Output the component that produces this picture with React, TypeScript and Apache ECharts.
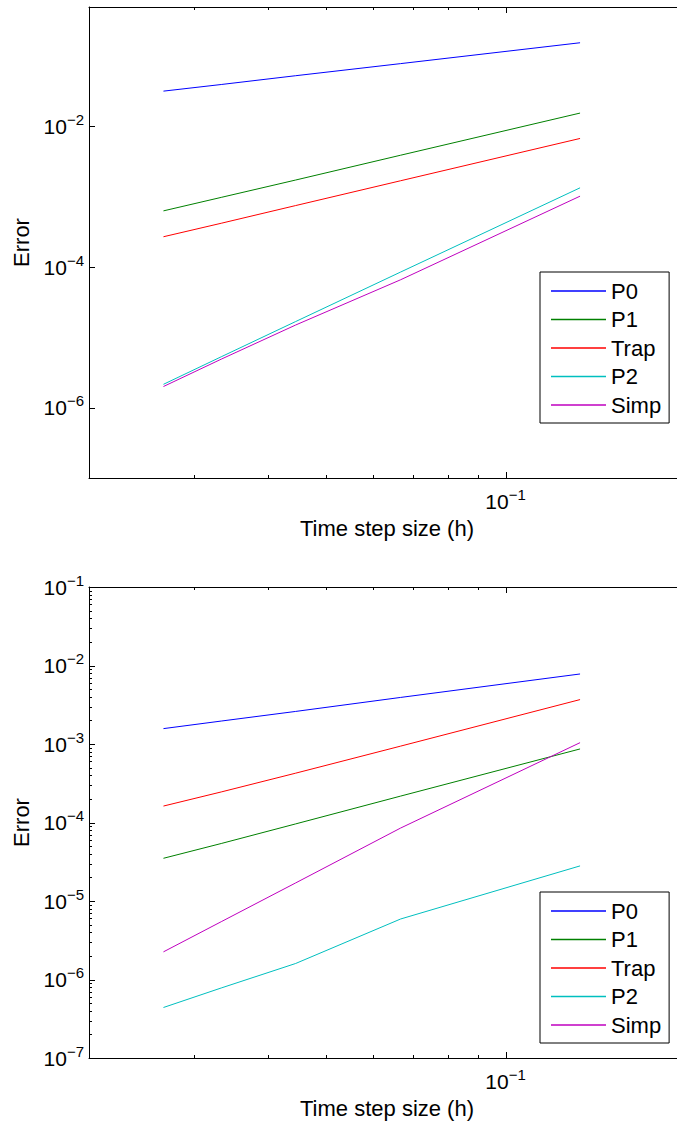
import React, { useEffect, useRef } from "react";
import * as echarts from "echarts";

const stepSizes = [0.026667, 0.033333, 0.044444, 0.066667, 0.133333];
const seriesNames = ["P0", "P1", "Trap", "P2", "Simp"];
const seriesColors = ["#0000ff", "#008000", "#ff0000", "#00bfbf", "#bf00bf"];

// top panel errors
const topP0 = [0.0318, 0.0395, 0.0527, 0.0783, 0.155];
const topP1 = [6.3e-4, 9.8e-4, 1.73e-3, 3.9e-3, 1.55e-2];
const topTrap = [2.7e-4, 4.2e-4, 7.5e-4, 1.69e-3, 6.75e-3];
const topP2 = [2.15e-6, 5.3e-6, 1.68e-5, 8.5e-5, 1.34e-3];
const topSimp = [2.0e-6, 4.9e-6, 1.5e-5, 6.6e-5, 1.02e-3];

// bottom panel errors
const botP0 = [1.57e-3, 1.96e-3, 2.6e-3, 3.92e-3, 7.8e-3];
const botP1 = [3.5e-5, 5.4e-5, 9.6e-5, 2.17e-4, 8.65e-4];
const botTrap = [1.62e-4, 2.45e-4, 4.25e-4, 9.4e-4, 3.68e-3];
const botP2 = [4.4e-7, 7.8e-7, 1.6e-6, 5.9e-6, 2.8e-5];
const botSimp = [2.25e-6, 5.45e-6, 1.7e-5, 8.5e-5, 1.04e-3];

const xRange = [0.02, 0.2];
const topYRange = [1e-7, 0.5];
const botYRange = [1e-7, 1e-1];
const xMajorTicks = [0.1, 0.2];
const xMinorTicks = [0.03, 0.04, 0.05, 0.06, 0.07, 0.08, 0.09];
const xLabelTicks = [0.1];
const topYTicks = [1e-6, 1e-4, 1e-2];
const botYTicks = [1e-7, 1e-6, 1e-5, 1e-4, 1e-3, 1e-2, 1e-1];
const botYMinor = [
  2e-7, 3e-7, 4e-7, 5e-7, 6e-7, 7e-7, 8e-7, 9e-7,
  2e-6, 3e-6, 4e-6, 5e-6, 6e-6, 7e-6, 8e-6, 9e-6,
  2e-5, 3e-5, 4e-5, 5e-5, 6e-5, 7e-5, 8e-5, 9e-5,
  2e-4, 3e-4, 4e-4, 5e-4, 6e-4, 7e-4, 8e-4, 9e-4,
  2e-3, 3e-3, 4e-3, 5e-3, 6e-3, 7e-3, 8e-3, 9e-3,
  2e-2, 3e-2, 4e-2, 5e-2, 6e-2, 7e-2, 8e-2, 9e-2,
];

const topSeries = [topP0, topP1, topTrap, topP2, topSimp];
const botSeries = [botP0, botP1, botTrap, botP2, botSimp];

const FONT = "'Liberation Sans', Arial, Helvetica, sans-serif";
const BLACK = "#000";

const supLabel = (v: number) => {
  const e = Math.round(Math.log10(v));
  return `{b|10}{s|${e < 0 ? "\u2212" : ""}${Math.abs(e)}}`;
};
const rich = {
  b: { fontSize: 21, fontFamily: FONT, color: BLACK },
  s: { fontSize: 15, fontFamily: FONT, color: BLACK, padding: [0, 0, 14, 0] },
};

// inward tick marks placed through the axes' own scales
function tickSeries(
  xAxisIndex: number,
  yAxisIndex: number,
  side: "bottom" | "top" | "left",
  values: number[],
  edge: number,
  len: number
) {
  return {
    type: "custom",
    coordinateSystem: "cartesian2d",
    xAxisIndex,
    yAxisIndex,
    silent: true,
    clip: false,
    z: 5,
    data: values.map((v) => (side === "left" ? [edge, v] : [v, edge])),
    renderItem: (_params: any, api: any) => {
      const p = api.coord([api.value(0), api.value(1)]);
      let shape;
      if (side === "left") {
        const y = Math.round(p[1]) + 0.5;
        shape = { x1: p[0], y1: y, x2: p[0] + len, y2: y };
      } else {
        const x = Math.round(p[0]) + 0.5;
        shape = side === "bottom"
          ? { x1: x, y1: p[1], x2: x, y2: p[1] - len }
          : { x1: x, y1: p[1], x2: x, y2: p[1] + len };
      }
      return { type: "line", shape, style: { stroke: BLACK, lineWidth: 1 } };
    },
  };
}

function xAxes(gridIndex: number) {
  return [
    {
      type: "log",
      gridIndex,
      min: xRange[0],
      max: xRange[1],
      position: "bottom",
      name: "Time step size (h)",
      nameLocation: "middle",
      nameGap: 39,
      nameTextStyle: { fontSize: 22, fontFamily: FONT, color: BLACK },
      splitLine: { show: false },
      axisLine: { show: true, onZero: false, lineStyle: { color: BLACK, width: 1 } },
      axisTick: { show: false },
      axisLabel: { show: true, margin: 9, customValues: xLabelTicks, formatter: supLabel, rich },
    },
    {
      type: "log",
      gridIndex,
      min: xRange[0],
      max: xRange[1],
      position: "top",
      splitLine: { show: false },
      axisLine: { show: true, onZero: false, lineStyle: { color: BLACK, width: 1 } },
      axisTick: { show: false },
      axisLabel: { show: false },
    },
  ];
}

function yMain(gridIndex: number, range: number[], ticks: number[]) {
  return {
    type: "log",
    gridIndex,
    min: range[0],
    max: range[1],
    position: "left",
    name: "Error",
    nameLocation: "middle",
    nameGap: 51,
    nameTextStyle: { fontSize: 22, fontFamily: FONT, color: BLACK },
    splitLine: { show: false },
    axisLine: { show: true, onZero: false, lineStyle: { color: BLACK, width: 1 } },
    axisTick: { show: false },
    axisLabel: { show: true, margin: 5, customValues: ticks, formatter: supLabel, rich },
  };
}

export default function App() {
  const ref = useRef<HTMLDivElement>(null);
  useEffect(() => {
    if (!ref.current) return;
    const chart = echarts.init(ref.current, undefined, { renderer: "svg" });
    const series: any[] = [];
    const panels = [
      { xi: 0, yi: 0, data: topSeries, yRange: topYRange, yTicks: topYTicks, yMinor: [] as number[] },
      { xi: 2, yi: 1, data: botSeries, yRange: botYRange, yTicks: botYTicks, yMinor: botYMinor },
    ];
    panels.forEach((pn) => {
      seriesNames.forEach((name, i) => {
        series.push({
          name,
          type: "line",
          xAxisIndex: pn.xi,
          yAxisIndex: pn.yi,
          symbol: "none",
          lineStyle: { color: seriesColors[i], width: 1 },
          itemStyle: { color: seriesColors[i] },
          data: stepSizes.map((h, j) => [h, pn.data[i][j]]),
        });
      });
      series.push(tickSeries(pn.xi, pn.yi, "bottom", xMajorTicks, pn.yRange[0], 6));
      series.push(tickSeries(pn.xi, pn.yi, "bottom", xMinorTicks, pn.yRange[0], 3));
      series.push(tickSeries(pn.xi, pn.yi, "top", xMajorTicks, pn.yRange[1], 6));
      series.push(tickSeries(pn.xi, pn.yi, "top", xMinorTicks, pn.yRange[1], 3));
      series.push(tickSeries(pn.xi, pn.yi, "left", pn.yTicks, xRange[0], 6));
      if (pn.yMinor.length) series.push(tickSeries(pn.xi, pn.yi, "left", pn.yMinor, xRange[0], 3));
    });
    const legendBase = {
      orient: "vertical",
      left: 540,
      backgroundColor: "#fff",
      borderColor: BLACK,
      borderWidth: 1,
      padding: [8, 8, 7, 11],
      icon: "rect",
      itemWidth: 55,
      itemHeight: 1.5,
      itemGap: 6.5,
      selectedMode: false,
      textStyle: { fontSize: 22, fontFamily: FONT, color: BLACK, lineHeight: 22 },
      data: seriesNames.map((name, i) => ({
        name,
        itemStyle: { color: seriesColors[i], borderWidth: 0 },
      })),
    };
    chart.setOption({
      animation: false,
      backgroundColor: "#fff",
      grid: [
        { left: 89, top: 7, width: 596, height: 471, outerBoundsMode: "none" },
        { left: 89, top: 587, width: 596, height: 471, outerBoundsMode: "none" },
      ],
      xAxis: [...xAxes(0), ...xAxes(1)],
      yAxis: [yMain(0, topYRange, topYTicks), yMain(1, botYRange, botYTicks)],
      legend: [
        { ...legendBase, top: 272 },
        { ...legendBase, top: 892 },
      ],
      series,
    });
    return () => chart.dispose();
  }, []);
  return (
    <div style={{ position: "absolute", left: 0, top: 0, width: 677, height: 1125, overflow: "hidden" }}>
      <div ref={ref} style={{ width: 720, height: 1125 }} />
    </div>
  );
}
